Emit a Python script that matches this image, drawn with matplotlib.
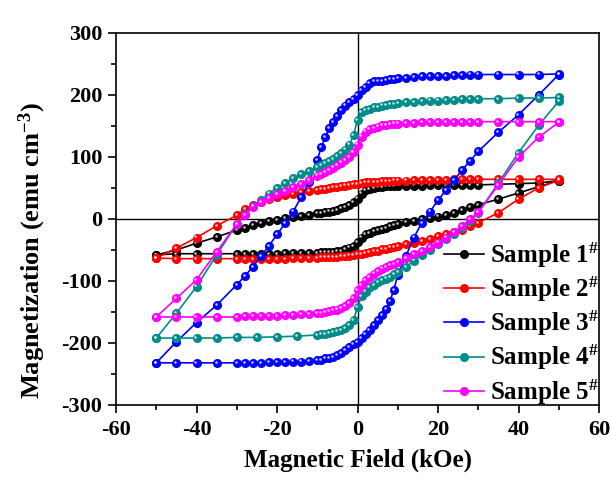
import matplotlib
matplotlib.use("Agg")
import matplotlib.pyplot as plt
from matplotlib.ticker import MultipleLocator
from matplotlib import transforms

plt.rcParams['font.family'] = ['Liberation Serif', 'DejaVu Serif']
plt.rcParams['font.weight'] = 'bold'
plt.rcParams['mathtext.fontset'] = 'custom'
plt.rcParams['mathtext.rm'] = 'Liberation Serif:bold'
plt.rcParams['mathtext.bf'] = 'Liberation Serif:bold'
plt.rcParams['mathtext.default'] = 'bf'
plt.rcParams['axes.unicode_minus'] = False

# field grid (kOe), descending branch from +50 to -50
field_down = [50, 45, 40, 35, 30, 28, 26, 24, 22, 20, 18, 16, 14, 12, 10,
              9, 8, 7, 6, 5, 4, 3, 2, 1, 0, -1, -2, -3, -4, -5, -6, -7, -8, -9,
              -10, -12, -14, -16, -18, -20, -22, -24, -26, -28, -30, -35, -40, -45, -50]
field_up = field_down[::-1]
# sample 4 was measured with a coarser step on its return branch
field_up_s4 = [-50, -45, -40, -35, -30, -25, -20, -15, -10, -9, -8, -7, -6, -5, -4, -3, -2, -1,
               0, 1, 2, 3, 4, 5, 6, 7, 8, 9, 10, 12, 14, 16, 18, 20, 22, 24, 26, 28,
               30, 35, 40, 45, 50]

# magnetization (emu cm^-3)
s1_down = [62, 58, 57, 56, 55, 55, 55, 55, 55, 55, 55, 54, 54, 54, 54,
           53, 53, 53, 52, 51, 50, 48, 46, 41, 33, 27, 22, 19, 17, 15, 13, 12, 11, 10,
           9, 7, 5, 3, 1, -1, -4, -7, -10, -14, -18, -29, -39, -50, -58]
s1_up = [-58, -56, -56, -56, -56, -56, -56, -56, -56, -56, -55, -55, -55, -55, -55,
         -54, -54, -54, -53, -52, -51, -49, -46, -43, -37, -30, -25, -22, -20, -18, -16, -14, -12, -10,
         -8, -5, -3, 0, 2, 4, 7, 10, 14, 19, 23, 32, 42, 52, 62]

s2_down = [64, 64, 64, 64, 64, 64, 64, 64, 63, 63, 63, 63, 63, 62, 62,
           62, 61, 61, 61, 60, 60, 59, 59, 58, 57, 56, 55, 54, 53, 52, 51, 50, 49, 48,
           47, 45, 43, 40, 38, 35, 32, 28, 23, 16, 6, -11, -30, -47, -63]
s2_up = [-63, -64, -64, -64, -64, -64, -64, -64, -64, -64, -64, -63, -63, -63, -63,
         -62, -62, -62, -61, -61, -60, -60, -59, -58, -57, -56, -55, -54, -52, -51, -49, -48, -46, -45,
         -44, -41, -38, -35, -32, -28, -25, -21, -17, -12, -6, 10, 32, 50, 63]

s3_down = [234, 233, 233, 233, 233, 233, 232, 232, 231, 231, 230, 230, 229, 228, 227,
           226, 225, 224, 223, 222, 222, 219, 213, 208, 200, 194, 188, 183, 176, 166, 157, 146, 132, 116,
           95, 60, 35, 12, -7, -25, -43, -60, -77, -92, -106, -139, -167, -198, -232]
s3_up = [-232, -232, -232, -232, -232, -232, -232, -232, -231, -231, -231, -230, -230, -229, -228,
         -227, -225, -224, -222, -219, -216, -211, -206, -202, -198, -192, -186, -179, -171, -163, -155, -145, -133, -115,
         -90, -60, -30, -6, 12, 30, 47, 63, 79, 94, 109, 140, 168, 200, 233]

s4_down = [196, 195, 195, 194, 194, 193, 193, 192, 192, 191, 191, 190, 189, 188, 187,
           186, 185, 184, 183, 181, 180, 178, 176, 172, 160, 135, 120, 112, 106, 101, 96, 93, 90, 87,
           84, 78, 72, 66, 58, 50, 41, 31, 21, 8, -8, -58, -109, -152, -192]
s4_up = [-192, -192, -192, -192, -191, -191, -190, -189,
         -187, -186, -185, -184, -182, -181, -179, -176, -171, -163,
         -142, -125, -117, -110, -106, -102, -99, -96, -93, -89,
         -85, -78, -67, -58, -50, -41, -33, -24, -14, -3,
         10, 58, 107, 151, 190]

s5_down = [157, 157, 157, 157, 157, 157, 157, 157, 157, 156, 156, 156, 155, 155, 154,
           154, 153, 152, 151, 149, 147, 145, 141, 133, 120, 108, 100, 95, 91, 87, 83, 79, 76, 73,
           70, 63, 57, 51, 45, 40, 34, 28, 20, 7, -8, -53, -98, -128, -158]
s5_up = [-158, -158, -158, -158, -158, -157, -157, -157, -156, -156, -155, -155, -154, -153, -152,
         -151, -150, -149, -147, -146, -144, -141, -136, -127, -115, -106, -99, -93, -88, -84, -80, -77, -74, -72,
         -69, -63, -57, -51, -45, -38, -30, -21, -11, 0, 11, 55, 100, 132, 156]

labels = ['Sample 1$^{\\#}$', 'Sample 2$^{\\#}$', 'Sample 3$^{\\#}$',
          'Sample 4$^{\\#}$', 'Sample 5$^{\\#}$']
colors = ['#000000', '#ff0000', '#0000ff', '#008b8b', '#ff00ff']

loops = [
    (field_down + field_up, s1_down + s1_up),
    (field_down + field_up, s2_down + s2_up),
    (field_down + field_up, s3_down + s3_up),
    (field_down + field_up_s4, s4_down + s4_up),
    (field_down + field_up, s5_down + s5_up),
]

fig = plt.figure(figsize=(6.11, 4.83), dpi=100)
ax = fig.add_axes([0.1899, 0.1615, 0.7905, 0.7702])

ax.axhline(0, color='black', lw=1.0, zorder=1)
ax.axvline(0, color='black', lw=1.0, zorder=1)

# small white spot on every marker, like the shaded balls in the original
shine = transforms.offset_copy(ax.transData, fig=fig, x=-0.8, y=0.8, units='points')

for (h, m), c, lab in zip(loops, colors, labels):
    ax.plot(h, m, '-o', color=c, lw=1.2, ms=5.5, mec=c, mfc=c, label=lab, zorder=2)
    ax.plot(h, m, 'o', color='white', ms=1.8, alpha=0.8, mew=0, transform=shine, zorder=2)

ax.set_xlim(-60, 60)
ax.set_ylim(-300, 300)
ax.xaxis.set_major_locator(MultipleLocator(20))
ax.xaxis.set_minor_locator(MultipleLocator(10))
ax.yaxis.set_major_locator(MultipleLocator(100))
ax.yaxis.set_minor_locator(MultipleLocator(50))
ax.tick_params(which='major', direction='out', length=6, width=1.2, labelsize=16, top=False, right=False)
ax.tick_params(which='minor', direction='out', length=3.5, width=1.2, top=False, right=False)
ax.tick_params(axis='x', pad=5)
ax.tick_params(axis='y', pad=4)
for sp in ax.spines.values():
    sp.set_linewidth(1.2)

ax.set_xlabel('Magnetic Field (kOe)', fontsize=18, fontweight='bold', labelpad=6)
ax.set_ylabel('Magnetization (emu cm$^{-3}$)', fontsize=19, fontweight='bold')
ax.yaxis.set_label_coords(-0.141, 0.415)

leg = ax.legend(loc='lower right', bbox_to_anchor=(1.03, -0.045), frameon=False,
                fontsize=18, handlelength=1.6, handletextpad=0.25, labelspacing=0.2,
                borderaxespad=0.2)

fig.savefig('out.png', dpi=100)
